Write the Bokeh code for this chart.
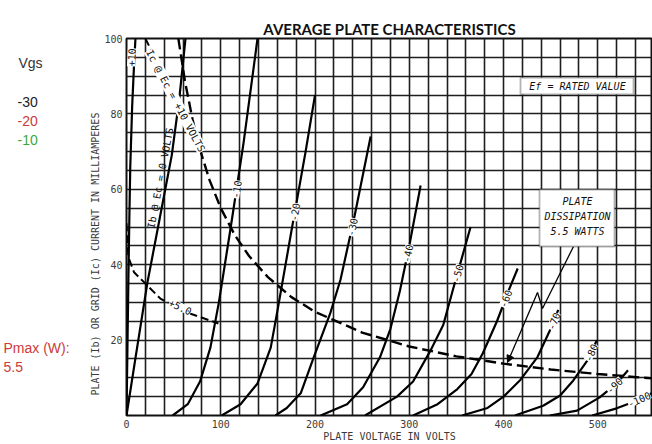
import numpy as np
from bokeh.plotting import figure
from bokeh.layouts import row
from bokeh.models import Range1d, FixedTicker, Label, BoxAnnotation, Arrow, NormalHead, ColumnDataSource
from bokeh.core.properties import value
from bokeh.embed import file_html
from bokeh.resources import INLINE

# ---------------- data (plate voltage V, current mA) ----------------
v_ec_p10 = [0, 1, 2, 3, 4, 6, 8, 9.5]
i_ec_p10 = [0, 18, 36, 52, 66, 82, 93, 100]

v_ec_0 = [0, 10, 22, 35, 48, 56, 62.6]
i_ec_0 = [0, 16, 35, 52, 69, 84, 100]

v_ec_m10 = [49, 65, 78, 89, 98, 110, 124, 139]
i_ec_m10 = [0, 3, 9, 18, 30, 49, 72, 100]

v_ec_m20 = [101, 121, 139, 153, 161, 175, 190, 200]
i_ec_m20 = [0, 3, 8.5, 18, 29, 49, 70, 85]

v_ec_m30 = [158, 170, 185, 198, 216, 227, 242, 259]
i_ec_m30 = [0, 2, 6, 15, 27, 36, 53, 74]

v_ec_m40 = [206, 234, 251, 269, 280, 290, 300, 312]
i_ec_m40 = [0, 3, 7.5, 15.5, 23, 33, 45, 61]

v_ec_m50 = [253, 287, 304, 322, 336, 347, 356, 365]
i_ec_m50 = [0, 5, 9, 17, 24, 34, 42, 50]

v_ec_m60 = [304, 330, 351, 366, 378, 393, 406, 415]
i_ec_m60 = [0, 3, 7, 11, 16.5, 25, 33.5, 39]

v_ec_m70 = [356, 383, 400, 418, 436, 449, 458]
i_ec_m70 = [0, 2, 5, 9.5, 15.5, 22.5, 28]

v_ec_m80 = [412, 442, 460, 474, 489, 499]
i_ec_m80 = [0, 2.6, 5.3, 9.3, 14.6, 20]

v_ec_m90 = [449, 478, 502, 520, 532]
i_ec_m90 = [0, 1.3, 4.8, 8.5, 12]

v_ec_m100 = [494, 520, 537, 560]
i_ec_m100 = [0, 1.9, 3.5, 6.2]

# plate dissipation 5.5 W (dashed)
diss_v = [55, 62, 70, 78, 88, 100, 115, 130, 150, 175, 200, 250, 300, 350, 400, 450, 500, 560]
diss_i = [100, 88.7, 78.6, 70.5, 62.5, 55, 47.8, 42.3, 36.7, 31.4, 27.5, 22, 18.3, 15.7, 13.75, 12.2, 11, 9.8]

# grid current curves (dashed)
ic_p10_v = [20, 30, 40, 50, 62]
ic_p10_i = [100, 95, 90, 84.5, 78]
ic_p5_v = [0, 2, 8, 18, 36, 47, 68, 97.5]
ic_p5_i = [51, 42, 38, 35.5, 31, 29.5, 27, 24.4]

# curve labels: (V list, I list, label, current level where label sits)
plate_curves = [
    (v_ec_p10, i_ec_p10, "+10", 95),
    (v_ec_0, i_ec_0, None, None),
    (v_ec_m10, i_ec_m10, "-10", 60),
    (v_ec_m20, i_ec_m20, "-20", 54),
    (v_ec_m30, i_ec_m30, "-30", 50),
    (v_ec_m40, i_ec_m40, "-40", 43),
    (v_ec_m50, i_ec_m50, "-50", 37.7),
    (v_ec_m60, i_ec_m60, "-60", 31),
    (v_ec_m70, i_ec_m70, "-70", 25),
    (v_ec_m80, i_ec_m80, "-80", 16.7),
    (v_ec_m90, i_ec_m90, "-90", 8),
    (v_ec_m100, i_ec_m100, "-100", 4.3),
]

x_tick_labels = [0, 100, 200, 300, 400, 500]
y_tick_labels = [20, 40, 60, 80, 100]

title_text = "AVERAGE PLATE CHARACTERISTICS"
x_label_text = "PLATE VOLTAGE IN VOLTS"
y_label_text = "PLATE (Ib) OR GRID (Ic) CURRENT IN MILLIAMPERES"

side_texts = ["Vgs", "-30", "-20", "-10", "Pmax (W):", "5.5"]
side_colors = ["#333333", "#222222", "#cc3a3a", "#3aaa3a", "#cc3a3a", "#cc3a3a"]
side_x = [18, 17, 17, 17, 3, 3]
side_y = [62, 101, 120, 139, 347, 366]

# ---------------- geometry ----------------
W, H = 652, 444
FL, FT, FB = 126, 38, 29
AXIS_W = 45
SIDE_W = FL - AXIS_W
X_MAX, Y_MAX = 558, 100
SX = (W - FL) / X_MAX
SY = (H - FT - FB) / Y_MAX


def at(px, py):
    return (px - FL) / SX, (H - FB - py) / SY


# ---------------- left side panel with overlay texts ----------------
# its frame is aligned with the chart frame (rows align plot frames), so the
# vertical range is expressed in window pixels between the frame edges
s = figure(width=SIDE_W, height=H, output_backend="svg", toolbar_location=None,
           x_range=Range1d(0, SIDE_W), y_range=Range1d(H - FB, FT),
           x_axis_type=None, y_axis_type=None, min_border=0,
           min_border_top=FT, min_border_bottom=FB,
           background_fill_color="white", border_fill_color="white")
s.outline_line_color = None
s.xgrid.visible = False
s.ygrid.visible = False
s.text(x="x", y="y", text="t", text_color="c",
       source=ColumnDataSource(dict(x=side_x, y=side_y, t=side_texts, c=side_colors)),
       text_font=value("Liberation Sans"), text_font_size=value("14px"),
       text_align="left", text_baseline="middle")

# ---------------- main chart ----------------
p = figure(width=W - SIDE_W, height=H, output_backend="svg", toolbar_location=None,
           x_range=Range1d(0, X_MAX), y_range=Range1d(0, Y_MAX),
           min_border_left=AXIS_W, min_border_right=0, min_border_top=FT,
           min_border_bottom=FB, background_fill_color="white",
           border_fill_color="white", title=title_text)

p.title.align = "center"
p.title.text_font = "Lato"
p.title.text_font_style = "bold"
p.title.text_font_size = "15px"
p.title.text_color = "#111111"
p.title.standoff = 2

p.outline_line_color = "#111111"
p.outline_line_width = 2

MONO = "DejaVu Sans Mono"
for ax in (p.xaxis[0], p.yaxis[0]):
    ax.axis_line_color = None
    ax.major_tick_line_color = None
    ax.minor_tick_line_color = None
    ax.major_tick_out = 0
    ax.major_tick_in = 0
    ax.minor_tick_out = 0
    ax.minor_tick_in = 0
    ax.major_label_text_font = MONO
    ax.major_label_text_font_size = "10px"
    ax.major_label_text_color = "#3a3a3a"
    ax.major_label_text_line_height = 1.0
    ax.axis_label_text_font = MONO
    ax.axis_label_text_font_size = "10px"
    ax.axis_label_text_font_style = "normal"
    ax.axis_label_text_color = "#3a3a3a"
    ax.axis_label_text_line_height = 1.0
    ax.axis_label_standoff = 0
p.xaxis.ticker = FixedTicker(ticks=x_tick_labels)
p.yaxis.ticker = FixedTicker(ticks=y_tick_labels)
p.xaxis.major_label_standoff = 4
p.yaxis.major_label_standoff = 4
p.xaxis.axis_label = x_label_text
p.yaxis.axis_label = y_label_text + "\u00a0" * 9

p.xgrid.ticker = FixedTicker(ticks=list(range(0, 561, 20)))
p.ygrid.ticker = FixedTicker(ticks=list(range(0, 101, 5)))
for g in (p.xgrid[0], p.ygrid[0]):
    g.grid_line_color = "#1e1e1e"
    g.grid_line_width = 1.6
    g.grid_line_alpha = 1.0

# curves
for v, i, _, _ in plate_curves:
    p.line(v, i, line_color="black", line_width=2.2)
p.line(diss_v, diss_i, line_color="black", line_width=2.4, line_dash="11 5")
p.line(ic_p10_v, ic_p10_i, line_color="black", line_width=2.0, line_dash="8 4")
p.line(ic_p5_v, ic_p5_i, line_color="black", line_width=2.0, line_dash="8 4")


def add_label(x, y, text, angle=0.0, size="10px", font=MONO, style="normal",
              color="#111111", bg="white", align="center", baseline="middle",
              xo=0, yo=0):
    kw = dict(x=x, y=y, text=text, angle=angle, text_font=font,
              text_font_size=size, text_font_style=style, text_color=color,
              text_align=align, text_baseline=baseline, x_offset=xo, y_offset=yo)
    if bg is not None:
        kw["background_fill_color"] = bg
    p.add_layout(Label(**kw))


# plate curve labels placed on the curves
for v, i, txt, lvl in plate_curves:
    if txt is None:
        continue
    vv = float(np.interp(lvl, i, v))
    v1 = float(np.interp(lvl - 2, i, v))
    v2 = float(np.interp(lvl + 2, i, v))
    ang = np.arctan2(4 * SY, (v2 - v1) * SX)
    add_label(vv, lvl, txt, angle=ang, xo=(-3 if txt == "+10" else 0))

# Ib @ Ec = 0 label (beside the Ec=0 curve)
lvl0 = 63
v0 = float(np.interp(lvl0, i_ec_0, v_ec_0))
a0 = np.arctan2(4 * SY, (np.interp(lvl0 + 2, i_ec_0, v_ec_0) - np.interp(lvl0 - 2, i_ec_0, v_ec_0)) * SX)
add_label(v0, lvl0, "Ib @ Ec = 0 VOLTS", angle=a0, xo=-7, bg=None)

# Ic @ Ec = +10 label along the grid current curve
vc = 50
ic = float(np.interp(vc, ic_p10_v, ic_p10_i))
add_label(vc, ic, "Ic @ Ec = +10 VOLTS", angle=np.radians(-62), xo=2, yo=-4)

# +5.0 label on the grid current curve
v5 = 57
i5 = float(np.interp(v5, ic_p5_v, ic_p5_i))
a5 = np.arctan2((np.interp(v5 + 4, ic_p5_v, ic_p5_i) - np.interp(v5 - 4, ic_p5_v, ic_p5_i)) * SY, 8 * SX)
add_label(v5, i5, "+5.0", angle=a5, yo=2)

# boxes
bx0, by0 = at(520, 77)
bx1, by1 = at(633, 94)
p.add_layout(BoxAnnotation(left=bx0, right=bx1, top=by0, bottom=by1,
                           fill_color="white", fill_alpha=1.0,
                           line_color="black", line_width=1.8))
cx, cy = at(577, 86)
add_label(cx, cy, "Ef = RATED VALUE", style="italic", bg=None)

dx0, dy0 = at(539, 189)
dx1, dy1 = at(614, 246)
p.add_layout(BoxAnnotation(left=dx0, right=dx1, top=dy0, bottom=dy1,
                           fill_color="white", fill_alpha=1.0,
                           line_color="black", line_width=1.8))
for txt, py in (("PLATE", 201), ("DISSIPATION", 216), ("5.5 WATTS", 231)):
    tx, ty = at(577, py)
    add_label(tx, ty, txt, style="italic", bg=None)

# leader with zigzag and arrow to dissipation curve
l_pts = [at(573, 246), at(542, 308), at(537, 292)]
p.line([q[0] for q in l_pts], [q[1] for q in l_pts], line_color="black", line_width=1.3)
ae = at(507, 362)
p.add_layout(Arrow(x_start=l_pts[-1][0], y_start=l_pts[-1][1], x_end=ae[0], y_end=ae[1],
                   line_color="black", line_width=1.3,
                   end=NormalHead(size=7, fill_color="black", line_color="black")))

layout = row(s, p, spacing=0)
open("out.html", "w").write(file_html(layout, INLINE))
